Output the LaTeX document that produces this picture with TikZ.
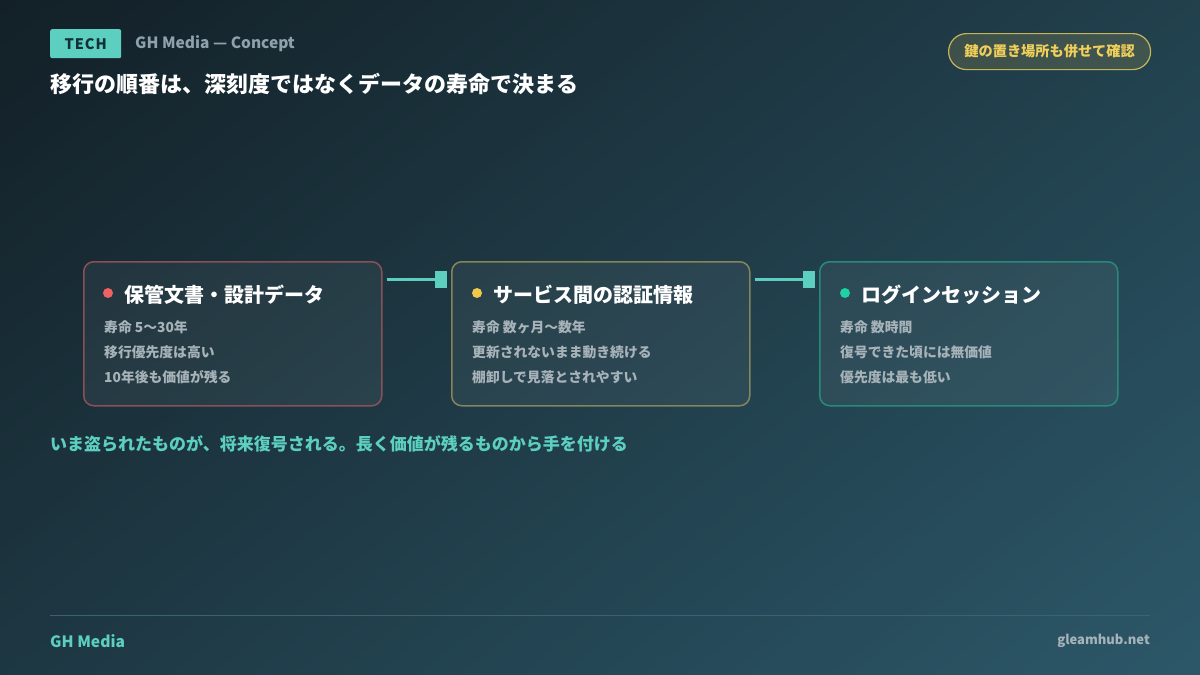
\documentclass[tikz,border=0pt]{standalone}
\usepackage{fontspec}
\setmainfont{Noto Sans CJK JP}
\usetikzlibrary{calc}
\definecolor{bgA}{HTML}{132027}
\definecolor{bgB}{HTML}{2C5869}
\definecolor{teal}{HTML}{5CCFC0}
\definecolor{tagtext}{HTML}{12303A}
\definecolor{subgray}{HTML}{8FA1AA}
\definecolor{bodygray}{HTML}{A7B3B9}
\definecolor{gold}{HTML}{F0CF5A}
\definecolor{goldline}{HTML}{C8B458}
\definecolor{redline}{HTML}{8A5058}
\definecolor{oliveline}{HTML}{86845A}
\definecolor{tealline}{HTML}{2A8A7A}
\definecolor{reddot}{HTML}{F06262}
\definecolor{yellowdot}{HTML}{F3C94A}
\definecolor{greendot}{HTML}{1FD1A4}
\definecolor{footline}{HTML}{3A6272}
\tikzset{
  card/.style={draw, line width=1.5pt, rounded corners=10pt, fill=white, fill opacity=0.05, draw opacity=1, minimum width=298pt, minimum height=144pt, anchor=north west, inner sep=0pt},
  cardtitle/.style={anchor=base west, text=white, font=\fontsize{20}{23}\selectfont\bfseries, inner sep=0pt},
  cardbody/.style={anchor=base west, text=bodygray, font=\fontsize{13.8}{16}\selectfont\bfseries, inner sep=0pt},
  conn/.style={draw=teal, line width=3.5pt},
  sqbox/.style={fill=teal, minimum width=12pt, minimum height=17pt, inner sep=0pt},
}
\begin{document}
\begin{tikzpicture}[x=1pt,y=-1pt]
\useasboundingbox (0,0) rectangle (1200,675);
\begin{scope}
\clip (0,0) rectangle (1200,675);
\begin{scope}[x={(0.616pt,-0.788pt)}, y={(0.788pt,0.616pt)}]
\foreach \i in {0,...,99} {
  \pgfmathsetmacro{\pa}{\i*12.71}
  \pgfmathsetmacro{\pb}{\i*12.71+13.8}
  \fill[bgB!\i!bgA] (\pa,-1600) -- (\pb,-1600) -- (\pb,1600) -- (\pa,1600) -- cycle;
}
\end{scope}
\end{scope}
% header
\node[fill=teal, rounded corners=2pt, minimum width=71pt, minimum height=29pt, inner sep=0pt, anchor=north west, text=tagtext, font=\fontsize{14.5}{16}\selectfont\bfseries] (tag) at (50,29) {T\kern1pt E\kern1pt C\kern1pt H};
\node[anchor=west, inner sep=0pt, text=subgray, font=\fontsize{15.5}{18}\selectfont\bfseries] (sub) at (135,44) {GH Media — Concept};
\node[anchor=west, inner sep=0pt, text=white, font=\fontsize{22}{25}\selectfont\bfseries] (title) at (50,84) {移行の順番は、深刻度ではなくデータの寿命で決まる};
\node[draw=goldline, line width=1.2pt, fill=goldline, fill opacity=0.18, text opacity=1, rounded corners=18pt, minimum width=202pt, minimum height=36pt, inner sep=0pt, anchor=north west, text=gold, font=\fontsize{14.2}{16}\selectfont\bfseries] (pill) at (948,33) {鍵の置き場所も併せて確認};
% cards
\node[card, draw=redline] (b1) at (83,261) {};
\node[card, draw=oliveline] (b2) at (451,261) {};
\node[card, draw=tealline] (b3) at (819,261) {};
% connectors
\node[sqbox] (sq1) at (441,279.5) {};
\node[sqbox] (sq2) at (809,279.5) {};
\draw[conn] ($(b1.north east)+(4,18.5)$) -- (sq1.west);
\draw[conn] ($(b2.north east)+(4,18.5)$) -- (sq2.west);
% card 1
\fill[reddot] ($(b1.north west)+(25,32)$) circle (5);
\node[cardtitle] (t1) at ($(b1.north west)+(41,41)$) {保管文書・設計データ};
\node[cardbody] (l11) at ($(b1.north west)+(21,71)$) {寿命 5〜30年};
\node[cardbody] (l12) at ($(b1.north west)+(21,96)$) {移行優先度は高い};
\node[cardbody] (l13) at ($(b1.north west)+(21,121)$) {10年後も価値が残る};
% card 2
\fill[yellowdot] ($(b2.north west)+(26,32)$) circle (5);
\node[cardtitle] (t2) at ($(b2.north west)+(42,41)$) {サービス間の認証情報};
\node[cardbody] (l21) at ($(b2.north west)+(21,71)$) {寿命 数ヶ月〜数年};
\node[cardbody] (l22) at ($(b2.north west)+(21,96)$) {更新されないまま動き続ける};
\node[cardbody] (l23) at ($(b2.north west)+(21,121)$) {棚卸しで見落とされやすい};
% card 3
\fill[greendot] ($(b3.north west)+(26,32)$) circle (5);
\node[cardtitle] (t3) at ($(b3.north west)+(42,41)$) {ログインセッション};
\node[cardbody] (l31) at ($(b3.north west)+(21,71)$) {寿命 数時間};
\node[cardbody] (l32) at ($(b3.north west)+(21,96)$) {復号できた頃には無価値};
\node[cardbody] (l33) at ($(b3.north west)+(21,121)$) {優先度は最も低い};
% message
\node[anchor=west, inner sep=0pt, text=teal, font=\fontsize{17}{20}\selectfont\bfseries] (msg) at (50,444) {いま盗られたものが、将来復号される。長く価値が残るものから手を付ける};
% footer
\coordinate (fl) at (50,615.5);
\coordinate (fr) at (1150,615.5);
\draw[footline, line width=1pt] (fl) -- (fr);
\node[anchor=west, inner sep=0pt, text=teal, font=\fontsize{15.6}{18}\selectfont\bfseries] (brand) at (50,641) {GH Media};
\node[anchor=east, inner sep=0pt, text=bodygray, font=\fontsize{13}{15}\selectfont\bfseries] (url) at (1150,641) {gleamhub.net};
\end{tikzpicture}
\end{document}
